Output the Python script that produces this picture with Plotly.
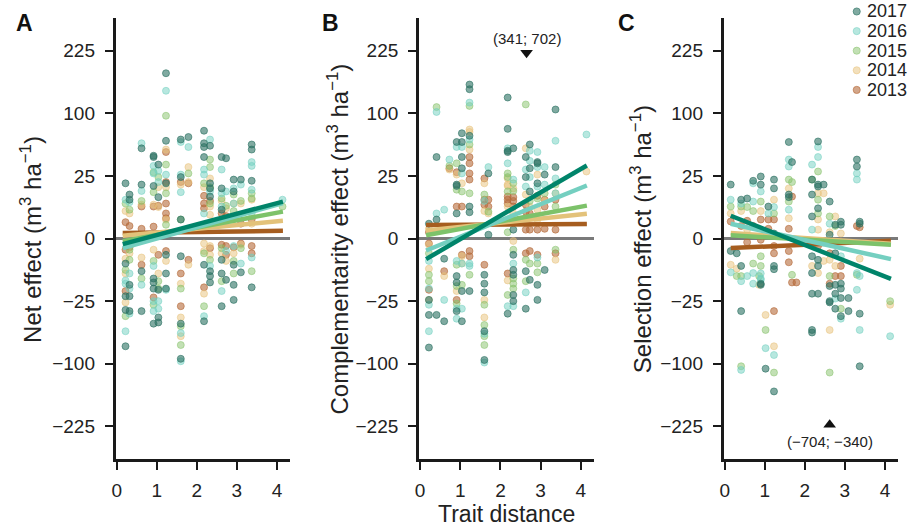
import numpy as np
import plotly.graph_objects as go

years = [2013, 2014, 2015, 2016, 2017]
point_colors = {2017: "rgba(43,114,98,0.6)", 2016: "rgba(111,207,192,0.5)",
                2015: "rgba(134,194,106,0.5)", 2014: "rgba(232,194,122,0.5)",
                2013: "rgba(181,106,58,0.6)"}
line_colors = {2017: "#00846a", 2016: "#74cfc0", 2015: "#7dc26a", 2014: "#e3c27a", 2013: "#a65d1f"}

# ---------------- Net effect (panel A) ----------------
net_x_2017 = [0.22,0.22,0.22,0.22,0.22, 0.32,0.32,0.32,0.32,0.32, 0.62,0.62,0.62,0.62,
              0.92,0.92,0.92,0.92,0.92,0.92,0.92, 1.04,1.04,1.04,1.04,1.04, 1.23,1.23,1.23,1.23,1.23,1.23,
              1.6,1.6,1.6,1.6,1.6,1.6, 1.79, 2.18,2.18,2.18,2.18,2.18,2.18, 2.33,2.33,2.33,2.33,2.33,2.33,2.33,
              2.62,2.62,2.62,2.62,2.62,2.62, 2.73,2.73, 2.92,2.92,2.92,2.92,2.92, 3.1,3.1, 3.37,3.37,3.37,3.37]
net_y_2017 = [19.4,-4,-21.2,-32.5,-74, 12.3,9.6,-13.7,-21.2,-33.6, 51.8,18.5,-6.8,-33.6,
              43.6,42.3,17.6,-10.2,-12.3,-16,-46.2, 34.8,10.9,-16.8,-39.7,-44.9, 174,60.8,19.4,-1.7,-7.8,-16,
              62.4,24,2.3,-2,-46.2,-92.2, 65.6, 74,57.8,53.3,42.3,-4.4,-43.6, 54.8,19.4,16,11.2,-6.8,-9,-12.3,
              42.3,16,5.3,-2.9,-7.8,-29.2, 41,-10.9, 22.1,14.1,-4.4,-13.7,-24, 22.1,-7.3, 56.3,50.4,21.2,-15.2]
net_x_2016 = [0.22,0.22,0.22,0.22, 0.32,0.32,0.32,0.32, 0.62,0.62,0.62, 0.92,0.92,0.92,0.92,0.92,
              1.04,1.04,1.04,1.04, 1.23,1.23,1.23,1.23, 1.6,1.6,1.6,1.6,1.6, 1.79, 2.18,2.18,2.18,2.18,
              2.33,2.33,2.33, 2.62,2.62,2.62,2.62, 2.73,2.73, 2.92,2.92,2.92, 3.1,3.1,
              3.37,3.37,3.37,3.37,3.37, 4.14]
net_y_2016 = [9.6,-11.2,-13,-54.8, 8.4,-7.8,-16,-36, 57.8,14.4,-13.7, 33.6,27,-4.8,-25,-33.6,
              29.2,20.3,-25,-31.4, 139,26,0.16,-16.8, 59.3,26,13.7,-57,-96, 53.3, 30.3,26,4,-38.4,
              62.4,14.1,-4.8, 30.3,13,6.5,-17.6, 14.1,-1, 16,7.8,-0.36, 18.5,-4,
              37.2,33.6,15.2,4,-2.3, 9.6]
net_x_2015 = [0.22,0.22,0.22, 0.32,0.32,0.32, 0.62,0.62, 0.92,0.92,0.92,0.92, 1.04,1.04,1.04,
              1.23,1.23,1.23,1.23, 1.6,1.6,1.6,1.6, 1.79, 2.18,2.18,2.18, 2.33,2.33,2.33,2.33,2.33,
              2.62,2.62,2.62, 2.73, 2.92,2.92,2.92,2.92, 3.1,3.1, 3.37,3.37,3.37, 4.14]
net_y_2015 = [7.8,-6.3,-38.4, 5.3,-2.9,-0.8, 9,-10.2, 28,13.7,-3.2,-28, 24,-11.6,-16,
              96,34.8,13,1.2, 2.3,-16,-49,-72.3, 27, 19.4,-1.4,-29.2, 39.7,32.5,16.8,7.8,-2.9,
              10.2,-0.6,-11.6, 6.8, 12.3,4.8,-3.2,-7.8, 9,-0.6, 13,10.2,-6.8, 6.5]
net_x_2014 = [0.22,0.22,0.22,0.22, 0.32,0.32, 0.62,0.62, 0.92,0.92, 1.04,1.04,1.04,
              1.23,1.23,1.23,1.23, 1.6,1.6,1.6,1.6, 1.79,1.79,1.79, 2.18,2.18,2.18,2.18,
              2.33,2.33,2.33,2.33,2.33, 2.62,2.62, 2.73,2.73, 2.92,2.92,2.92, 3.1,3.1, 3.37,3.37]
net_y_2014 = [4.8,-2.6,-7.8,-26, 4,-1.4, 7.3,-2.3, 7.3,-0.8, 16.8,6.3,-7.8,
              50.4,16.8,2.3,-3.2, 18.5,-13,-39.7,-60.8, 32.5,20.3,-4.4, 16.8,-0.16,-1,-19.4,
              23,6.5,3.6,-0.36,-1.7, 9,-1.4, 5.8,-3.2, 7.8,2.3,-1.4, 7.8,-0.25, 9.6,1.4]
net_x_2013 = [0.22,0.22,0.22, 0.32,0.32, 0.62,0.62,0.62, 0.92,0.92,0.92, 1.04,1.04,
              1.23,1.23,1.23,1.23,1.23,1.23, 1.6,1.6,1.6, 1.79,1.79, 2.18,2.18,2.18,2.18,
              2.33,2.33, 2.62,2.62, 2.73,2.73,2.73, 2.92,2.92, 3.1,3.1, 3.37,3.37,3.37]
net_y_2013 = [1.7,-0.8,-17.6, 1,-0.5, 6.5,0.6,-4.4, 6.5,0.9,-22.1, 6.8,-1.7,
              47.6,20.3,7.8,4,2.6,-1, 20.3,-7.8,-29.2, 19.4,-2.9, 11.6,7.8,5.8,-15.2,
              9,-0.6, 4,-0.25, 3.2,-0.36,-1.7, 2.6,-0.5, 1.4,-0.16, 2.3,-0.36,-1.4]

# ---------------- Complementarity effect (panel B) ----------------
comp_x_2017 = [0.22,0.22,0.22,0.22, 0.41,0.41,0.41, 0.6,0.6, 0.91,0.91,0.91,0.91,0.91,0.91,0.91,
               1.04,1.04,1.04,1.04,1.04,1.04, 1.23,1.23,1.23,1.23,1.23,1.23, 1.6,1.6,1.6,1.6,1.6,
               1.7,1.7, 2.18,2.18,2.18,2.18,2.18, 2.32,2.32,2.32,2.32,2.32,2.32,2.32,
               2.63,2.63,2.63,2.63, 2.73,2.73,2.73,2.73, 2.92,2.92,2.92,2.92,2.92, 3.1,3.1, 3.37,3.37]
comp_y_2017 = [1.4,-24,-37.2,-75.7, 42.3,2.3,-37.2, -2.6,-43.6, 59.3,18.5,17.6,4,-9,-12.3,-33.6,
               70.6,59.3,42.3,31.4,-17.6,-43.6, 151,142,67.2,6.5,4.4,-17.6, -8.4,-13,-18.5,-54.8,-94,
               27,0.09, 126.6,76.6,49,47.6,-36, 51.8,0.5,-1.7,-6.3,-8.4,-20.3,-25,
               42.3,24,-6.8,-31.4, 56.3,31.4,14.1,-10.9, 37.2,36,19.4,-13.7,-24, 26,-6.3, 106,32.5]
comp_x_2016 = [0.22,0.22,0.22,0.22, 0.41,0.41, 0.6,0.6, 0.73, 0.91,0.91,0.91,0.91, 1.04,1.04,1.04,1.04,
               1.23,1.23,1.23,1.23, 1.6,1.6,1.6, 1.7, 2.18,2.18,2.18, 2.32,2.32,2.32, 2.63,2.63,2.63,
               2.73,2.73,2.73, 2.92,2.92,2.92,2.92, 3.1,3.1, 3.37,3.37,3.37, 4.14]
comp_y_2016 = [-3.2,-16,-28,-54.8, 102,4, 5.3,-24, 39.7, 53.3,-3.2,-31.4,-41, 53.3,27,-4,-31.4,
               117.7,62.4,-4,-4.8, 9,-57.8,-98, 32.5, 51.8,36,-29.2, 22.1,-4,-29.2, 30.3,17.2,-18.5,
               49,38.4,24, 47.6,32.5,17.2,-2.3, 32.5,18.5, 60.8,23,13, 68.9]
comp_x_2015 = [0.22,0.22,0.22, 0.41, 0.73, 0.91,0.91,0.91,0.91,0.91, 1.04,1.04, 1.23,1.23,1.23,1.23,
               1.6,1.6,1.6,1.6,1.6, 1.7, 2.18,2.18,2.18,2.18,2.18, 2.32,2.32,2.32,2.32,2.32,2.32,
               2.63,2.63,2.63, 2.73,2.73, 2.92,2.92,2.92, 3.1, 3.37,3.37,3.37]
comp_y_2015 = [-1.4,-8.4,-11.6, 110, 33.6, 36,15.2,-4.4,-14.4,-27, 14.1,-13.7, 112,56.3,13,-8.4,
               12.3,-28,-47.6,-60.8,-72.3, 4.6, 27,24,14.1,0.25,-20.3, 19.4,14.4,-0.8,-10.2,-13,-16,
               114.5,-2.9,-11.6, 9,-4, 10.2,-4,-7.3, 13, 18.5,6.5,-0.8]
comp_x_2014 = [0.22,0.22,0.22,0.22, 0.6, 0.73, 0.91,0.91, 1.04,1.04,1.04, 1.23,1.23,1.23,
               1.6,1.6,1.6,1.6, 1.7, 2.18,2.18,2.18,2.18,2.18, 2.32,2.32,2.32, 2.63,2.63, 2.73,
               2.92,2.92,2.92, 3.1, 3.37,3.37, 4.14]
comp_y_2014 = [0.6,-0.25,-5.8,-24, -9, 30.3, 26,-17.6, 19.4,-2,-4, 75.7,72.3,50.4,
               19.4,4.8,-24,-39.7, 4, 23,18.5,17.6,6.5,-11.2, 16,4,-0.04, 51.8,12.3, 6.3,
               26,5.3,2.3, 9, 13,-2.9, 28.6]
comp_x_2013 = [0.22,0.22,0.22, 0.6, 0.73, 0.91,0.91,0.91, 1.04,1.04, 1.23,1.23,1.23,1.23,1.23,1.23,
               1.6,1.6,1.6,1.6, 1.7,1.7, 2.18,2.18,2.18,2.18, 2.32,2.32,2.32, 2.63,2.63,2.63,2.63,
               2.73,2.73,2.73, 2.92,2.92,2.92, 3.1,3.1,3.1, 3.37,3.37,3.37]
comp_y_2013 = [0.25,-0.16,-16.8, -6.8, 31.4, 28,6.5,-24, 6.5,-1.7, 42.3,36,27,22.1,-1,-2,
               23,9.6,7.3,-4.4, 9.6,6.5, 11.2,9.6,7.8,-7.8, 10.9,9,6.5, 7.3,4.6,0.5,-1.4,
               4,0.5,-1, 11.6,0.5,-1.7, 9.6,6.5,0.6, 9.6,0.5,-1.4]

# ---------------- Selection effect (panel C) ----------------
sel_x_2017 = [0.15,0.15, 0.3, 0.41,0.41,0.41, 0.56, 0.71, 0.9,0.9,0.9,0.9, 1.02, 1.09,
              1.23,1.23,1.23,1.23,1.23,1.23, 1.6,1.6,1.6, 1.68, 2.18,2.18,2.18,2.18,2.18,2.18,2.18,2.18,
              2.33,2.33,2.33,2.33,2.33,2.33,2.33, 2.47, 2.62,2.62,2.62,2.62,2.62, 2.76,2.76,2.76,2.76,2.76,
              2.9,2.9,2.9,2.9,2.9,2.9, 3.09,3.09, 3.3,3.3, 3.37,3.37,3.37,3.37]
sel_y_2017 = [18.5,-1, -1.4, 9.6,-4.8,-33.6, 10.2, 21.2, 24.5,18.5,-13,-13.7, -108, 6.5,
              22.1,16,0.16,-4.8,-6,-149, 59.3,12.3,10.9, 37.2, 22.1,12.3,3.1,-2,-7.6,-19.4,-53.3,-56.3,
              60,18.5,17.2,5.8,-2.9,-4.8,-19.4, 18.5, 8.7,0.09,-14.4,-25,-26, 1.2,-1.4,-13.7,-19.4,-31.4,
              1.8,1.2,-13,-16,-22.6,-38.4, -22.6,-33.6, 39.7,33, 1.8,1.4,-36,-104]
sel_x_2016 = [0.15,0.15, 0.41,0.41,0.41, 0.56, 0.71,0.71,0.71,0.71, 0.9,0.9,0.9,0.9, 1.02, 1.09,
              1.23,1.23, 1.6,1.6,1.6, 2.18,2.18, 2.33,2.33, 2.62, 2.76, 2.9,2.9,
              3.3,3.3,3.3,3.3, 3.37,3.37, 4.13]
sel_y_2016 = [9.6,-7.3, 7.8,-11.6,-110, -9, 19.4,8.7,-7.6,-13, 14.1,-7.8,-10.2,-10.9, -76.6, 4,
              6.3,-86.5, 39.7,33,5.3, 34.8,0.5, 53.3,42.3, 1.4, -23, -2,-41,
              27,22.1,-7.6,-16.8, -9,-53.3, -60.8]
sel_x_2015 = [0.15, 0.3, 0.41,0.41,0.41, 0.56, 0.71,0.71, 0.86, 0.9,0.9,0.9, 1.02, 1.23,1.23,
              1.6,1.6, 1.68,1.68, 2.18,2.18, 2.33,2.33,2.33, 2.62,2.62,2.62, 2.76, 2.9, 3.3, 4.13]
sel_y_2015 = [6.5, -9, 6.5,-9,-104, 6.3, 4.8,-4, -9, 8.7,-2,-4.8, -53.3, 4,-114.5,
              22.1,8.7, 20.3,-8.4, 22.1,-0.25, 28.6,9.6,4, 3.1,-9,-114.5, 1, -31.4, -8.4, -25]
sel_x_2014 = [0.15,0.15, 0.3, 0.41, 0.56, 0.86, 0.9, 1.02, 1.23,1.23, 1.6,1.6, 2.18,
              2.33,2.33,2.33,2.33, 2.47,2.47, 2.62,2.62,2.62, 2.76,2.76, 2.9, 3.37, 4.13]
sel_y_2014 = [4,-4.4, -5.8, 4.8, 0.5, -13.7, 4.8, -37.2, 9.6,-74, 16,2.6, -4.8,
              13,2.3,0.5,-7.6, 13,-3.2, 0.25,-2.9,-53.3, 3.1,-4.8, 0.16, -2.6, -28]
sel_x_2013 = [0.15, 0.41, 0.56,0.56, 0.71, 0.9,0.9, 1.09,1.09, 1.23,1.23,1.23,1.23,
              1.6,1.6,1.6, 1.68,1.68, 1.79, 2.33, 2.62,2.62, 2.76, 2.9,2.9, 3.3, 3.37]
sel_y_2013 = [1.85, 1, 2,-0.09, 1, 2.3,-0.01, 2.3,0.6, 2.3,-0.36,-1.4,-33.6,
              0.6,-1,-3.6, 11.2,-12.3, -12.3, -0.36, -1.4,-13, -9, -4.8,-9, 1, 0.8]

# ---------------- Linear fits (values at the ends of the fitted range) ----------------
fit_x = [0.15, 4.15]
net_fit_lo = [0.19, 0.05, -0.05, -0.6, -0.2]      # 2013..2017
net_fit_hi = [0.38, 2.0, 4.6, 8.0, 8.7]
comp_fit_lo = [1.14, 0.41, 0.07, -0.92, -2.7]
comp_fit_hi = [1.32, 3.9, 6.9, 17.9, 34.0]
sel_fit_lo = [-0.59, 0.19, 0.07, 1.38, 3.3]
sel_fit_hi = [-0.03, -0.18, -0.25, -2.7, -10.4]

# off-scale values
comp_outlier_x, comp_outlier_label = 2.65, "(341; 702)"
sel_outlier_x, sel_outlier_label = 2.62, "(−704; −340)"

tick_vals = [-225, -100, -25, 0, 25, 100, 225]
tick_text = ["−225", "−100", "−25", "0", "25", "100", "225"]
legend_years = [2017, 2016, 2015, 2014, 2013]


def tr(v):
    v = np.asarray(v, dtype=float)
    return np.sign(v) * np.sqrt(np.abs(v))


series = {
    "net": {2017: (net_x_2017, net_y_2017), 2016: (net_x_2016, net_y_2016), 2015: (net_x_2015, net_y_2015),
            2014: (net_x_2014, net_y_2014), 2013: (net_x_2013, net_y_2013)},
    "comp": {2017: (comp_x_2017, comp_y_2017), 2016: (comp_x_2016, comp_y_2016), 2015: (comp_x_2015, comp_y_2015),
             2014: (comp_x_2014, comp_y_2014), 2013: (comp_x_2013, comp_y_2013)},
    "sel": {2017: (sel_x_2017, sel_y_2017), 2016: (sel_x_2016, sel_y_2016), 2015: (sel_x_2015, sel_y_2015),
            2014: (sel_x_2014, sel_y_2014), 2013: (sel_x_2013, sel_y_2013)},
}
fits = {"net": (net_fit_lo, net_fit_hi), "comp": (comp_fit_lo, comp_fit_hi), "sel": (sel_fit_lo, sel_fit_hi)}
axes = {"net": ("x", "y"), "comp": ("x2", "y2"), "sel": ("x3", "y3")}

for k, d in series.items():
    for yr, (xs, ys) in d.items():
        assert len(xs) == len(ys), (k, yr, len(xs), len(ys))

fig = go.Figure()

for key in ["net", "comp", "sel"]:
    xa, ya = axes[key]
    for yr in years:
        xs, ys = series[key][yr]
        fig.add_trace(go.Scatter(
            x=xs, y=tr(ys), mode="markers", xaxis=xa, yaxis=ya,
            name=str(yr), legendgroup=str(yr), showlegend=False,
            marker=dict(size=7, color=point_colors[yr], line=dict(width=1, color=point_colors[yr])),
            hoverinfo="skip"))

for key in ["net", "comp", "sel"]:
    xa, ya = axes[key]
    lo, hi = fits[key]
    for i, yr in enumerate(years):
        fig.add_trace(go.Scatter(
            x=fit_x, y=tr([lo[i], hi[i]]), mode="lines", xaxis=xa, yaxis=ya,
            line=dict(color=line_colors[yr], width=4.5), showlegend=False,
            legendgroup=str(yr), hoverinfo="skip"))

# off-scale markers, drawn at the edge of the scale
fig.add_trace(go.Scatter(x=[comp_outlier_x], y=[14.82], mode="markers", xaxis="x2", yaxis="y2",
                         marker=dict(symbol="triangle-down", size=11, color="#111"), showlegend=False,
                         hoverinfo="skip"))
fig.add_trace(go.Scatter(x=[sel_outlier_x], y=[-14.87], mode="markers", xaxis="x3", yaxis="y3",
                         marker=dict(symbol="triangle-up", size=11, color="#111"), showlegend=False,
                         hoverinfo="skip"))

FONT = "Liberation Sans, Arial, Helvetica, sans-serif"
W, H = 908, 528
doms_x = [[112 / W, 287 / W], [416.7 / W, 592.3 / W], [722.7 / W, 897.7 / W]]
dom_y = [1 - 459 / H, 1 - 18 / H]
yr_t = [-17.6, 17.6]

layout = dict(
    width=W, height=H, margin=dict(l=0, r=0, t=0, b=0),
    paper_bgcolor="white", plot_bgcolor="white",
    font=dict(family=FONT, color="#222", size=18),
    showlegend=False,
)
for i, suffix in enumerate(["", "2", "3"]):
    layout["xaxis" + suffix] = dict(
        domain=doms_x[i], range=[-0.03, 4.32], tickvals=[0, 1, 2, 3, 4],
        showline=True, linecolor="#1a1a1a", linewidth=2.5, ticks="outside", ticklen=8,
        tickwidth=2, tickcolor="#1a1a1a", showgrid=False, zeroline=False,
        tickfont=dict(size=19, color="#222"), ticklabelstandoff=4,
        anchor="y" + suffix)
    layout["yaxis" + suffix] = dict(
        domain=dom_y, range=yr_t, tickvals=list(tr(tick_vals)), ticktext=tick_text,
        showline=True, linecolor="#1a1a1a", linewidth=2.5, ticks="outside", ticklen=8,
        tickwidth=2, tickcolor="#1a1a1a", showgrid=False,
        zeroline=True, zerolinecolor="#7a7a7a", zerolinewidth=2.5,
        tickfont=dict(size=19, color="#222"), ticklabelstandoff=6,
        anchor="x" + suffix)
fig.update_layout(**layout)

ann = []
shapes = []
ymid = 1 - 239 / H
for xpx, txt in [(27, "Net effect (m<sup>3</sup> ha<sup>−1</sup>)"),
                 (335, "Complementarity effect (m<sup>3</sup> ha<sup>−1</sup>)"),
                 (640, "Selection effect (m<sup>3</sup> ha<sup>−1</sup>)")]:
    ann.append(dict(x=xpx / W, y=ymid, xref="paper", yref="paper", text=txt, textangle=-90,
                    showarrow=False, xanchor="center", yanchor="middle",
                    font=dict(size=24, color="#222", family=FONT)))
for xpx, letter in [(20.5, "A"), (328, "B"), (625, "C")]:
    ann.append(dict(x=xpx / W, y=1 - 23 / H, xref="paper", yref="paper", text="<b>" + letter + "</b>",
                    showarrow=False, xanchor="center", yanchor="middle",
                    font=dict(size=23, color="#111",
                              family="Liberation Sans Narrow, Arial Narrow, Liberation Sans, Arial")))
ann.append(dict(x=505 / W, y=0, xref="paper", yref="paper", text="Trait distance",
                showarrow=False, xanchor="center", yanchor="bottom", borderpad=0,
                font=dict(size=23, color="#222", family=FONT)))
ann.append(dict(x=comp_outlier_x, y=15.94, xref="x2", yref="y2", text=comp_outlier_label,
                showarrow=False, xanchor="center", yanchor="middle", font=dict(size=15, color="#222")))
ann.append(dict(x=sel_outlier_x + 0.02, y=-16.2, xref="x3", yref="y3", text=sel_outlier_label,
                showarrow=False, xanchor="center", yanchor="middle", font=dict(size=15, color="#222")))

# year key (top right)
key_marker_x, key_text_x, key_top, key_step, key_r = 856.5, 865, 11.5, 19.6, 3.6
for j, yr in enumerate(legend_years):
    yc = key_top + j * key_step
    shapes.append(dict(type="circle", xref="paper", yref="paper",
                       x0=(key_marker_x - key_r) / W, x1=(key_marker_x + key_r) / W,
                       y0=1 - (yc + key_r) / H, y1=1 - (yc - key_r) / H,
                       fillcolor=point_colors[yr], line=dict(color=point_colors[yr], width=1)))
    ann.append(dict(x=key_text_x / W, y=1 - yc / H, xref="paper", yref="paper", text=str(yr),
                    showarrow=False, xanchor="left", yanchor="middle",
                    font=dict(size=18, color="#222", family=FONT)))

fig.update_layout(annotations=ann, shapes=shapes)

fig.write_html("out.html", config={"displayModeBar": False},
               post_script="document.body.style.margin='0px';")
